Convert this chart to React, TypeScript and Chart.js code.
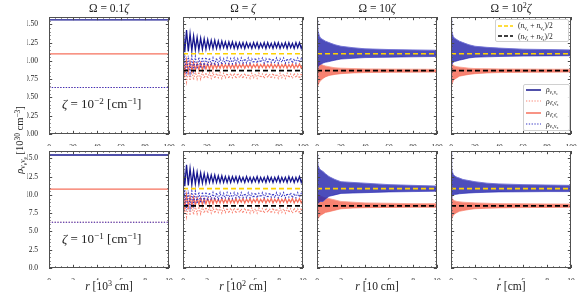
import React, { useEffect, useRef } from 'react';
import { Chart, registerables } from 'chart.js';
Chart.register(...registerables);

// ---------------- data ----------------
// tick labels
const X_TICKS_TOP = [0, 20, 40, 60, 80, 100];
const X_TICKS_BOT = [0, 2, 4, 6, 8, 10];
const Y_TICKS_TOP = [0, 0.25, 0.5, 0.75, 1.0, 1.25, 1.5];
const Y_TICKS_BOT = [0, 2.5, 5, 7.5, 10, 12.5, 15];

// panel 1 (Omega = 0.1 zeta): constant densities
const R_CONST_TOP = [0, 100];
const R_CONST_BOT = [0, 10];
const EE_1T = [1.56, 1.56];
const BB_1T = [1.095, 1.095];
const XX_1T = [0.636, 0.636];
const EE_1B = [15.45, 15.45];
const BB_1B = [10.8, 10.8];
const XX_1B = [6.25, 6.25];

// mean levels
const MEAN_E_TOP = [1.098, 1.098];
const MEAN_B_TOP = [0.866, 0.866];
const MEAN_E_BOT = [10.85, 10.85];
const MEAN_B_BOT = [8.5, 8.5];

// panel 2 (Omega = zeta): oscillating samples (69 per series)
const N_OSC = 69;
const R_OSC_TOP = Array.from({ length: N_OSC }, (_, i) => (i * 100) / (N_OSC - 1));
const R_OSC_BOT = Array.from({ length: N_OSC }, (_, i) => (i * 10) / (N_OSC - 1));

const EE_2T = [
  1.48, 1.12, 1.42, 1.13, 1.37, 1.14, 1.34, 1.15, 1.32, 1.15,
  1.31, 1.16, 1.30, 1.16, 1.29, 1.17, 1.28, 1.17, 1.28, 1.17,
  1.27, 1.17, 1.27, 1.18, 1.26, 1.17, 1.26, 1.18, 1.26, 1.17,
  1.25, 1.17, 1.25, 1.18, 1.25, 1.17, 1.25, 1.18, 1.24, 1.17,
  1.25, 1.18, 1.25, 1.17, 1.24, 1.18, 1.25, 1.17, 1.25, 1.18,
  1.24, 1.17, 1.25, 1.18, 1.25, 1.17, 1.24, 1.18, 1.25, 1.17,
  1.25, 1.18, 1.24, 1.17, 1.25, 1.18, 1.25, 1.17, 1.24,
];
const XX_2T = [
  0.74, 1.08, 0.80, 1.07, 0.84, 1.06, 0.87, 1.06, 0.89, 1.05,
  0.90, 1.05, 0.92, 1.05, 0.93, 1.04, 0.94, 1.04, 0.94, 1.04,
  0.95, 1.04, 0.95, 1.03, 0.96, 1.04, 0.96, 1.03, 0.96, 1.04,
  0.97, 1.03, 0.96, 1.04, 0.97, 1.03, 0.97, 1.04, 0.97, 1.03,
  0.97, 1.04, 0.97, 1.03, 0.98, 1.04, 0.97, 1.03, 0.97, 1.04,
  0.98, 1.03, 0.97, 1.04, 0.97, 1.03, 0.98, 1.04, 0.97, 1.03,
  0.98, 1.04, 0.97, 1.03, 0.97, 1.04, 0.98, 1.03, 0.97,
];
const BB_2T = [
  1.06, 0.83, 1.01, 0.85, 0.99, 0.86, 0.98, 0.87, 0.97, 0.88,
  0.97, 0.88, 0.96, 0.89, 0.96, 0.89, 0.96, 0.89, 0.96, 0.90,
  0.95, 0.90, 0.96, 0.90, 0.95, 0.90, 0.96, 0.90, 0.95, 0.90,
  0.96, 0.90, 0.95, 0.91, 0.96, 0.90, 0.95, 0.91, 0.96, 0.90,
  0.95, 0.91, 0.96, 0.90, 0.95, 0.91, 0.96, 0.90, 0.95, 0.91,
  0.96, 0.90, 0.95, 0.91, 0.96, 0.90, 0.95, 0.91, 0.96, 0.90,
  0.95, 0.91, 0.96, 0.90, 0.95, 0.91, 0.96, 0.90, 0.95,
];
const BX_2T = [
  0.66, 0.90, 0.71, 0.88, 0.73, 0.87, 0.74, 0.86, 0.75, 0.85,
  0.75, 0.85, 0.76, 0.84, 0.76, 0.84, 0.76, 0.84, 0.76, 0.83,
  0.77, 0.84, 0.76, 0.83, 0.77, 0.83, 0.76, 0.83, 0.77, 0.83,
  0.76, 0.83, 0.77, 0.82, 0.76, 0.83, 0.77, 0.82, 0.76, 0.83,
  0.77, 0.82, 0.76, 0.83, 0.77, 0.82, 0.76, 0.83, 0.77, 0.82,
  0.76, 0.83, 0.77, 0.82, 0.76, 0.83, 0.77, 0.82, 0.76, 0.83,
  0.77, 0.82, 0.76, 0.83, 0.77, 0.82, 0.76, 0.83, 0.77,
];
const EE_2B = [
  14.6, 11.2, 14.1, 11.3, 13.6, 11.4, 13.3, 11.5, 13.1, 11.5,
  13.0, 11.6, 12.9, 11.6, 12.8, 11.7, 12.7, 11.7, 12.7, 11.7,
  12.6, 11.7, 12.6, 11.7, 12.5, 11.7, 12.5, 11.7, 12.5, 11.8,
  12.5, 11.7, 12.5, 11.8, 12.4, 11.7, 12.5, 11.8, 12.4, 11.7,
  12.4, 11.8, 12.5, 11.7, 12.4, 11.8, 12.4, 11.7, 12.5, 11.8,
  12.4, 11.7, 12.4, 11.8, 12.5, 11.7, 12.4, 11.8, 12.4, 11.7,
  12.5, 11.8, 12.4, 11.7, 12.4, 11.8, 12.5, 11.7, 12.4,
];
const XX_2B = [
  7.3, 10.7, 7.9, 10.6, 8.3, 10.5, 8.6, 10.5, 8.8, 10.4,
  8.9, 10.4, 9.1, 10.4, 9.2, 10.3, 9.3, 10.3, 9.3, 10.3,
  9.4, 10.3, 9.4, 10.2, 9.5, 10.3, 9.5, 10.2, 9.5, 10.3,
  9.6, 10.2, 9.5, 10.3, 9.6, 10.2, 9.6, 10.3, 9.6, 10.2,
  9.6, 10.3, 9.6, 10.2, 9.7, 10.3, 9.6, 10.2, 9.6, 10.3,
  9.7, 10.2, 9.6, 10.3, 9.6, 10.2, 9.7, 10.3, 9.6, 10.2,
  9.7, 10.3, 9.6, 10.2, 9.6, 10.3, 9.7, 10.2, 9.6,
];
const BB_2B = [
  10.5, 8.2, 10.0, 8.4, 9.8, 8.5, 9.7, 8.6, 9.6, 8.7,
  9.6, 8.7, 9.5, 8.8, 9.5, 8.8, 9.5, 8.8, 9.5, 8.9,
  9.4, 8.9, 9.5, 8.9, 9.4, 8.9, 9.5, 8.9, 9.4, 8.9,
  9.5, 8.9, 9.4, 9.0, 9.5, 8.9, 9.4, 9.0, 9.5, 8.9,
  9.4, 9.0, 9.5, 8.9, 9.4, 9.0, 9.5, 8.9, 9.4, 9.0,
  9.5, 8.9, 9.4, 9.0, 9.5, 8.9, 9.4, 9.0, 9.5, 8.9,
  9.4, 9.0, 9.5, 8.9, 9.4, 9.0, 9.5, 8.9, 9.4,
];
const BX_2B = [
  6.5, 8.9, 7.0, 8.7, 7.2, 8.6, 7.3, 8.5, 7.4, 8.4,
  7.4, 8.4, 7.5, 8.3, 7.5, 8.3, 7.5, 8.3, 7.5, 8.2,
  7.6, 8.3, 7.5, 8.2, 7.6, 8.2, 7.5, 8.2, 7.6, 8.2,
  7.5, 8.2, 7.6, 8.1, 7.5, 8.2, 7.6, 8.1, 7.5, 8.2,
  7.6, 8.1, 7.5, 8.2, 7.6, 8.1, 7.5, 8.2, 7.6, 8.1,
  7.5, 8.2, 7.6, 8.1, 7.5, 8.2, 7.6, 8.1, 7.5, 8.2,
  7.6, 8.1, 7.5, 8.2, 7.6, 8.1, 7.5, 8.2, 7.6,
];

// panels 3 and 4: fast oscillations, read as upper / lower envelopes
const R_ENV_TOP = [0, 0.5, 1, 2, 3, 5, 7, 10, 15, 20, 30, 40, 60, 80, 100];
const R_ENV_BOT = [0, 0.05, 0.1, 0.2, 0.3, 0.5, 0.7, 1, 1.5, 2, 3, 4, 6, 8, 10];

const NU_HI_3T = [1.56, 1.45, 1.40, 1.34, 1.31, 1.29, 1.27, 1.25, 1.22, 1.20, 1.18, 1.165, 1.155, 1.15, 1.145];
const NU_LO_3T = [0.70, 0.88, 0.92, 0.94, 0.95, 0.97, 0.98, 0.99, 1.01, 1.025, 1.035, 1.045, 1.05, 1.055, 1.06];
const NB_HI_3T = [1.095, 1.03, 1.00, 0.97, 0.96, 0.94, 0.93, 0.92, 0.905, 0.90, 0.895, 0.89, 0.888, 0.886, 0.885];
const NB_LO_3T = [0.64, 0.65, 0.67, 0.71, 0.73, 0.76, 0.78, 0.80, 0.815, 0.825, 0.835, 0.84, 0.843, 0.845, 0.847];

const NU_HI_4T = [1.58, 1.42, 1.38, 1.33, 1.31, 1.29, 1.27, 1.25, 1.22, 1.20, 1.185, 1.175, 1.16, 1.155, 1.15];
const NU_LO_4T = [0.70, 0.92, 0.96, 0.98, 0.99, 1.00, 1.01, 1.02, 1.04, 1.05, 1.055, 1.06, 1.065, 1.068, 1.07];
const NB_HI_4T = [1.095, 0.99, 0.96, 0.94, 0.93, 0.92, 0.915, 0.91, 0.90, 0.895, 0.892, 0.89, 0.888, 0.886, 0.885];
const NB_LO_4T = [0.64, 0.66, 0.69, 0.73, 0.75, 0.77, 0.79, 0.80, 0.815, 0.825, 0.835, 0.84, 0.843, 0.845, 0.847];

const NU_HI_3B = [15.6, 14.6, 14.0, 13.6, 13.4, 13.2, 12.9, 12.5, 12.1, 11.8, 11.7, 11.6, 11.4, 11.3, 11.2];
const NU_LO_3B = [7.0, 8.6, 8.9, 9.0, 9.1, 9.1, 9.4, 9.8, 10.0, 10.2, 10.25, 10.3, 10.4, 10.45, 10.5];
const NB_HI_3B = [10.8, 10.2, 10.0, 9.9, 9.8, 9.7, 9.6, 9.5, 9.3, 9.1, 9.0, 8.9, 8.85, 8.8, 8.8];
const NB_LO_3B = [6.3, 6.6, 6.8, 7.0, 7.2, 7.4, 7.6, 7.7, 7.9, 8.1, 8.2, 8.25, 8.28, 8.3, 8.3];

const NU_HI_4B = [15.9, 13.8, 13.2, 12.8, 12.6, 12.4, 12.3, 12.1, 11.95, 11.8, 11.6, 11.5, 11.4, 11.35, 11.3];
const NU_LO_4B = [7.0, 9.4, 9.8, 10.0, 10.05, 10.1, 10.15, 10.2, 10.25, 10.3, 10.35, 10.4, 10.42, 10.45, 10.45];
const NB_HI_4B = [10.8, 9.8, 9.5, 9.3, 9.2, 9.1, 9.05, 9.0, 8.95, 8.9, 8.85, 8.8, 8.78, 8.76, 8.75];
const NB_LO_4B = [6.3, 6.6, 6.9, 7.2, 7.4, 7.6, 7.75, 7.85, 8.0, 8.1, 8.17, 8.22, 8.26, 8.28, 8.3];

// ---------------- styles / layout ----------------
const FONT = "'Liberation Serif', 'DejaVu Serif', serif";
const C_BLUE = '#16168e';
const C_BLUE_DOT = '#3434c4';
const C_RED = '#f6705c';
const C_RED_DOT = '#f98474';
const C_YELLOW = '#ffd200';

const STY: Record<string, any> = {
  blue: { borderColor: C_BLUE, borderWidth: 1.3 },
  blueDot: { borderColor: C_BLUE_DOT, borderWidth: 1.1, borderDash: [1.3, 1.5] },
  red: { borderColor: C_RED, borderWidth: 1.3 },
  redDot: { borderColor: C_RED_DOT, borderWidth: 1.1, borderDash: [1.3, 1.5] },
  yellow: { borderColor: C_YELLOW, borderWidth: 1.6, borderDash: [5, 3] },
  black: { borderColor: '#000', borderWidth: 1.6, borderDash: [5, 3] },
  blueBandHi: { borderColor: '#7070d4', borderWidth: 0.9, fill: '+1', backgroundColor: 'rgba(38,38,172,0.82)' },
  blueBandLo: { borderColor: '#7070d4', borderWidth: 0.9 },
  redBandHi: { borderColor: '#f9a393', borderWidth: 0.9, fill: '+1', backgroundColor: 'rgba(246,108,88,0.85)' },
  redBandLo: { borderColor: '#f9a393', borderWidth: 0.9 },
};

const COL_LEFT = [49, 183, 317, 451];
const ROW_TOP = [17, 151];
const PW = 120;
const PH = 117;
const ML = 22, MR = 8, MT = 8, MB = 12;

const ROWS = [
  { xMax: 100, yMax: 1.6, xTicks: X_TICKS_TOP, yTicks: Y_TICKS_TOP, yDec: 2, xMinor: 5, yMinor: 0.05 },
  { xMax: 10, yMax: 16, xTicks: X_TICKS_BOT, yTicks: Y_TICKS_BOT, yDec: 1, xMinor: 0.5, yMinor: 0.5 },
];

type S = [number[], number[], string];
const PANELS: { row: number; col: number; series: S[] }[] = [
  { row: 0, col: 0, series: [[R_CONST_TOP, EE_1T, 'blue'], [R_CONST_TOP, BB_1T, 'red'], [R_CONST_TOP, XX_1T, 'blueDot'], [R_CONST_TOP, XX_1T, 'redDot']] },
  { row: 0, col: 1, series: [[R_CONST_TOP, MEAN_E_TOP, 'yellow'], [R_CONST_TOP, MEAN_B_TOP, 'black'], [R_OSC_TOP, XX_2T, 'blueDot'], [R_OSC_TOP, BB_2T, 'red'], [R_OSC_TOP, BX_2T, 'redDot'], [R_OSC_TOP, EE_2T, 'blue']] },
  { row: 0, col: 2, series: [[R_CONST_TOP, MEAN_E_TOP, 'yellow'], [R_CONST_TOP, MEAN_B_TOP, 'black'], [R_ENV_TOP, NU_HI_3T, 'blueBandHi'], [R_ENV_TOP, NU_LO_3T, 'blueBandLo'], [R_ENV_TOP, NB_HI_3T, 'redBandHi'], [R_ENV_TOP, NB_LO_3T, 'redBandLo']] },
  { row: 0, col: 3, series: [[R_CONST_TOP, MEAN_E_TOP, 'yellow'], [R_CONST_TOP, MEAN_B_TOP, 'black'], [R_ENV_TOP, NU_HI_4T, 'blueBandHi'], [R_ENV_TOP, NU_LO_4T, 'blueBandLo'], [R_ENV_TOP, NB_HI_4T, 'redBandHi'], [R_ENV_TOP, NB_LO_4T, 'redBandLo']] },
  { row: 1, col: 0, series: [[R_CONST_BOT, EE_1B, 'blue'], [R_CONST_BOT, BB_1B, 'red'], [R_CONST_BOT, XX_1B, 'blueDot'], [R_CONST_BOT, XX_1B, 'redDot']] },
  { row: 1, col: 1, series: [[R_CONST_BOT, MEAN_E_BOT, 'yellow'], [R_CONST_BOT, MEAN_B_BOT, 'black'], [R_OSC_BOT, XX_2B, 'blueDot'], [R_OSC_BOT, BB_2B, 'red'], [R_OSC_BOT, BX_2B, 'redDot'], [R_OSC_BOT, EE_2B, 'blue']] },
  { row: 1, col: 2, series: [[R_CONST_BOT, MEAN_E_BOT, 'yellow'], [R_CONST_BOT, MEAN_B_BOT, 'black'], [R_ENV_BOT, NU_HI_3B, 'blueBandHi'], [R_ENV_BOT, NU_LO_3B, 'blueBandLo'], [R_ENV_BOT, NB_HI_3B, 'redBandHi'], [R_ENV_BOT, NB_LO_3B, 'redBandLo']] },
  { row: 1, col: 3, series: [[R_CONST_BOT, MEAN_E_BOT, 'yellow'], [R_CONST_BOT, MEAN_B_BOT, 'black'], [R_ENV_BOT, NU_HI_4B, 'blueBandHi'], [R_ENV_BOT, NU_LO_4B, 'blueBandLo'], [R_ENV_BOT, NB_HI_4B, 'redBandHi'], [R_ENV_BOT, NB_LO_4B, 'redBandLo']] },
];

const framePlugin = {
  id: 'frameTicks',
  afterDatasetsDraw(chart: any, _a: any, opts: any) {
    const { ctx, chartArea: a, scales } = chart;
    const xs = scales.x, ys = scales.y;
    ctx.save();
    ctx.strokeStyle = '#4a4a4a';
    ctx.lineWidth = 1;
    ctx.beginPath();
    const vTick = (v: number, len: number) => {
      const p = Math.round(xs.getPixelForValue(v)) + 0.5;
      ctx.moveTo(p, a.bottom); ctx.lineTo(p, a.bottom - len);
      ctx.moveTo(p, a.top); ctx.lineTo(p, a.top + len);
    };
    const hTick = (v: number, len: number) => {
      const p = Math.round(ys.getPixelForValue(v)) + 0.5;
      ctx.moveTo(a.left, p); ctx.lineTo(a.left + len, p);
      ctx.moveTo(a.right, p); ctx.lineTo(a.right - len, p);
    };
    for (let k = 0; k * opts.xMinor <= opts.xMax + 1e-9; k++) vTick(k * opts.xMinor, 1.6);
    for (let k = 0; k * opts.yMinor <= opts.yMax + 1e-9; k++) hTick(k * opts.yMinor, 1.6);
    opts.xTicks.forEach((v: number) => vTick(v, 3.2));
    opts.yTicks.forEach((v: number) => hTick(v, 3.2));
    ctx.stroke();
    ctx.strokeStyle = '#505050';
    ctx.strokeRect(Math.round(a.left) + 0.5, Math.round(a.top) + 0.5, Math.round(a.right - a.left) - 1, Math.round(a.bottom - a.top) - 1);
    ctx.restore();
  },
};

function PanelChart({ p }: { p: (typeof PANELS)[number] }) {
  const ref = useRef<HTMLCanvasElement>(null);
  const W = PW + ML + MR;
  const H = PH + MT + MB;
  useEffect(() => {
    const row = ROWS[p.row];
    const datasets = p.series.map(([r, v, k], i) => ({
      data: v.map((y, j) => ({ x: r[j], y })),
      pointRadius: 0,
      tension: 0,
      fill: false,
      order: i,
      ...STY[k],
    }));
    const chart = new Chart(ref.current!, {
      type: 'line',
      data: { datasets },
      plugins: [framePlugin],
      options: {
        responsive: false,
        animation: false,
        events: [],
        layout: { padding: { left: 0, top: MT, right: MR, bottom: 0 } },
        plugins: {
          legend: { display: false },
          tooltip: { enabled: false },
          frameTicks: { xMinor: row.xMinor, yMinor: row.yMinor, xMax: row.xMax, yMax: row.yMax, xTicks: row.xTicks, yTicks: row.yTicks },
        } as any,
        scales: {
          x: {
            type: 'linear', min: 0, max: row.xMax,
            grid: { display: false }, border: { display: false },
            afterBuildTicks: (ax: any) => { ax.ticks = row.xTicks.map((value) => ({ value })); },
            afterFit: (ax: any) => { ax.height = MB; },
            ticks: { font: { family: FONT, size: 7.5 }, color: '#222', padding: 2, maxRotation: 0, autoSkip: false, callback: (v: any) => String(v) },
          },
          y: {
            type: 'linear', min: 0, max: row.yMax,
            grid: { display: false }, border: { display: false },
            afterBuildTicks: (ax: any) => { ax.ticks = row.yTicks.map((value) => ({ value })); },
            afterFit: (ax: any) => { ax.width = ML; },
            ticks: { display: p.col === 0, font: { family: FONT, size: 7.5 }, color: '#222', padding: 3, callback: (v: any) => Number(v).toFixed(row.yDec) },
          },
        },
      } as any,
    });
    return () => chart.destroy();
  }, []);
  return (
    <canvas
      ref={ref}
      width={W}
      height={H}
      style={{ position: 'absolute', left: COL_LEFT[p.col] - ML, top: ROW_TOP[p.row] - MT, width: W, height: H }}
    />
  );
}

const Sup = ({ children }: any) => <span style={{ fontSize: '70%', verticalAlign: '0.45em', lineHeight: 0 }}>{children}</span>;
const Sub = ({ children }: any) => <span style={{ fontSize: '72%', verticalAlign: '-0.3em', lineHeight: 0 }}>{children}</span>;
const NUB = 'ν\u0304';

const TITLES = [
  <>Ω = 0.1<i>ζ</i></>,
  <>Ω = <i>ζ</i></>,
  <>Ω = 10<i>ζ</i></>,
  <>Ω = 10<Sup>2</Sup><i>ζ</i></>,
];
const XLABELS = [
  <><i>r</i> [10<Sup>3</Sup> cm]</>,
  <><i>r</i> [10<Sup>2</Sup> cm]</>,
  <><i>r</i> [10 cm]</>,
  <><i>r</i> [cm]</>,
];

function LineSample({ color, dash, w = 1.5 }: { color: string; dash?: string; w?: number }) {
  return (
    <svg width={15} height={4} style={{ display: 'block', flex: '0 0 auto' }}>
      <line x1={0} y1={2} x2={15} y2={2} stroke={color} strokeWidth={w} strokeDasharray={dash} />
    </svg>
  );
}

export default function App() {
  const txt: React.CSSProperties = { position: 'absolute', fontFamily: FONT, color: '#222', whiteSpace: 'nowrap' };
  const legRow = (top: number, left: number, sample: React.ReactNode, label: React.ReactNode) => (
    <div style={{ position: 'absolute', top: top - 5, left, height: 10, display: 'flex', alignItems: 'center', gap: 5, fontFamily: FONT, fontSize: 7.5, color: '#222', whiteSpace: 'nowrap' }}>
      {sample}
      <span>{label}</span>
    </div>
  );
  return (
    <div style={{ position: 'fixed', left: 0, top: 0, width: 580, height: 295, background: '#fff', overflow: 'hidden' }}>
      {PANELS.map((p, i) => <PanelChart key={i} p={p} />)}
      {TITLES.map((t, i) => (
        <div key={'t' + i} style={{ ...txt, left: COL_LEFT[i], width: PW, top: 1, textAlign: 'center', fontSize: 11.5, lineHeight: '14px' }}>{t}</div>
      ))}
      {XLABELS.map((t, i) => (
        <div key={'x' + i} style={{ ...txt, left: COL_LEFT[i], width: PW, top: 279, textAlign: 'center', fontSize: 11.5, lineHeight: '14px' }}>{t}</div>
      ))}
      <div style={{ ...txt, left: 20, top: 140, fontSize: 10.5, lineHeight: '12px', transform: 'translate(-50%, -50%) rotate(-90deg)' }}>
        <i>ρ</i><Sub>ν<Sub>e</Sub>ν<Sub>e</Sub></Sub> [10<Sup>30</Sup> cm<Sup>−3</Sup>]
      </div>
      <div style={{ ...txt, left: 62, top: 96, fontSize: 13, lineHeight: '16px' }}>
        <i>ζ</i> = 10<Sup>−2</Sup> [cm<Sup>−1</Sup>]
      </div>
      <div style={{ ...txt, left: 62, top: 231, fontSize: 13, lineHeight: '16px' }}>
        <i>ζ</i> = 10<Sup>−1</Sup> [cm<Sup>−1</Sup>]
      </div>
      <div style={{ position: 'absolute', left: 495, top: 19, width: 74, height: 23, background: 'rgba(255,255,255,0.85)', border: '1px solid #d0d0d0', borderRadius: 2, boxSizing: 'border-box' }} />
      {legRow(25.5, 498, <LineSample color={C_YELLOW} dash="4 2" />, <>(<i>n</i><Sub>ν<Sub>e</Sub></Sub> + <i>n</i><Sub>ν<Sub>x</Sub></Sub>)/2</>)}
      {legRow(36, 498, <LineSample color="#000" dash="4 2" />, <>(<i>n</i><Sub>{NUB}<Sub>e</Sub></Sub> + <i>n</i><Sub>{NUB}<Sub>x</Sub></Sub>)/2</>)}
      <div style={{ position: 'absolute', left: 523, top: 84, width: 47, height: 47, background: 'rgba(255,255,255,0.85)', border: '1px solid #d0d0d0', borderRadius: 2, boxSizing: 'border-box' }} />
      {legRow(89.5, 526, <LineSample color={C_BLUE} />, <><i>ρ</i><Sub>ν<Sub>e</Sub>ν<Sub>e</Sub></Sub></>)}
      {legRow(101, 526, <LineSample color={C_RED_DOT} dash="1.3 1.5" w={1.2} />, <><i>ρ</i><Sub>{NUB}<Sub>x</Sub>{NUB}<Sub>x</Sub></Sub></>)}
      {legRow(112.7, 526, <LineSample color={C_RED} />, <><i>ρ</i><Sub>{NUB}<Sub>e</Sub>{NUB}<Sub>e</Sub></Sub></>)}
      {legRow(124.3, 526, <LineSample color={C_BLUE_DOT} dash="1.3 1.5" w={1.2} />, <><i>ρ</i><Sub>ν<Sub>x</Sub>ν<Sub>x</Sub></Sub></>)}
    </div>
  );
}
